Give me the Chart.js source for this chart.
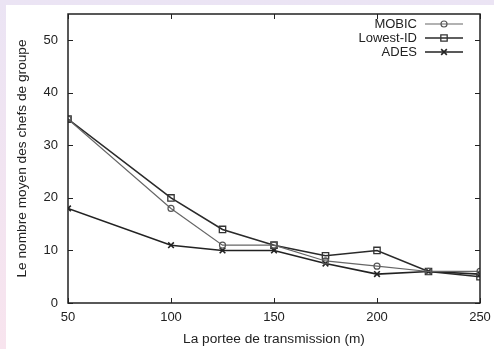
<!DOCTYPE html>
<html>
<head>
<meta charset="utf-8">
<script src="https://cdn.jsdelivr.net/npm/chart.js@4/dist/chart.umd.min.js"></script>
<style>
  html, body { margin: 0; padding: 0; }
  body { width: 494px; height: 349px; overflow: hidden; position: relative;
         background: linear-gradient(to bottom, #ebe4f4, #f8e4ee); }
  #wrap { position: absolute; left: 6px; top: 5px; width: 488px; height: 344px; background: #ffffff; }
  canvas { display: block; }
</style>
</head>
<body>
<div id="wrap"><canvas id="c" width="488" height="344"></canvas></div>
<script>
const ranges = [50, 100, 125, 150, 175, 200, 225, 250];
const mobic = [35, 18, 11, 11, 8, 7, 6, 6];
const lowestId = [35, 20, 14, 11, 9, 10, 6, 5];
const ades = [18, 11, 10, 10, 7.5, 5.5, 6, 5.5];
const seriesNames = ['MOBIC', 'Lowest-ID', 'ADES'];
const xTicks = [50, 100, 150, 200, 250];
const yTicks = [0, 10, 20, 30, 40, 50];
const xTitle = 'La portee de transmission (m)';
const yTitle = 'Le nombre moyen des chefs de groupe';

const FONT = 'Liberation Sans, Arial, sans-serif';
const pts = arr => arr.map((v, i) => ({ x: ranges[i], y: v }));
const noPad = s => { s.paddingTop = 0; s.paddingBottom = 0; s.paddingLeft = 0; s.paddingRight = 0; };

const frameAndTicks = {
  id: 'frameAndTicks',
  afterDatasetsDraw(chart) {
    const { ctx, chartArea: a, scales: { x, y } } = chart;
    ctx.save();
    ctx.strokeStyle = '#222';
    ctx.lineWidth = 1;
    const L = 5;
    ctx.beginPath();
    yTicks.forEach(v => {
      const py = Math.round(y.getPixelForValue(v)) + 0.5;
      ctx.moveTo(a.left, py); ctx.lineTo(a.left + L, py);
      ctx.moveTo(a.right, py); ctx.lineTo(a.right - L, py);
    });
    xTicks.forEach(v => {
      const px = Math.round(x.getPixelForValue(v)) + 0.5;
      ctx.moveTo(px, a.bottom); ctx.lineTo(px, a.bottom - L);
      ctx.moveTo(px, a.top); ctx.lineTo(px, a.top + L);
    });
    ctx.stroke();
    ctx.lineWidth = 1.5;
    ctx.strokeRect(a.left, a.top, a.right - a.left, a.bottom - a.top);
    // legend
    const rows = [19, 33, 47];
    ctx.font = '13px ' + FONT;
    ctx.textAlign = 'right';
    ctx.textBaseline = 'middle';
    chart.data.datasets.forEach((ds, i) => {
      const yy = rows[i];
      ctx.fillStyle = '#222';
      ctx.fillText(ds.label, 411, yy);
      ctx.strokeStyle = ds.borderColor;
      ctx.lineWidth = ds.borderWidth;
      ctx.beginPath(); ctx.moveTo(419, yy); ctx.lineTo(457, yy); ctx.stroke();
      ctx.fillStyle = 'rgba(0,0,0,0)';
      ctx.strokeStyle = ds.pointBorderColor;
      ctx.lineWidth = ds.pointBorderWidth;
      Chart.helpers.drawPoint(ctx, {
        pointStyle: ds.pointStyle, radius: ds.pointRadius, rotation: 0,
        borderWidth: ds.pointBorderWidth
      }, 438, yy);
    });
    ctx.restore();
  }
};

new Chart(document.getElementById('c'), {
  type: 'line',
  data: {
    datasets: [
      { label: seriesNames[0], data: pts(mobic), borderColor: '#666', borderWidth: 1.2,
        pointStyle: 'circle', pointRadius: 3, pointBorderWidth: 1.2,
        pointBorderColor: '#555', pointBackgroundColor: 'rgba(0,0,0,0)' },
      { label: seriesNames[1], data: pts(lowestId), borderColor: '#2a2a2a', borderWidth: 1.6,
        pointStyle: 'rect', pointRadius: 4.5, pointBorderWidth: 1.3,
        pointBorderColor: '#333', pointBackgroundColor: 'rgba(0,0,0,0)' },
      { label: seriesNames[2], data: pts(ades), borderColor: '#222', borderWidth: 1.6,
        pointStyle: 'crossRot', pointRadius: 4, pointBorderWidth: 1.6,
        pointBorderColor: '#222', pointBackgroundColor: 'rgba(0,0,0,0)' }
    ]
  },
  options: {
    responsive: false,
    animation: false,
    events: [],
    layout: { padding: { left: 0, right: 14, top: 9, bottom: 0 } },
    plugins: { legend: { display: false }, tooltip: { enabled: false } },
    scales: {
      x: {
        type: 'linear', min: 50, max: 250,
        afterBuildTicks: s => { s.ticks = xTicks.map(v => ({ value: v })); },
        afterFit: s => { s.height = 46; noPad(s); },
        grid: { display: false, drawTicks: false },
        border: { display: false },
        ticks: { padding: 7, color: '#222', font: { family: FONT, size: 13 }, maxRotation: 0 },
        title: { display: true, text: xTitle, color: '#222', font: { family: FONT, size: 13.7 },
                 padding: { top: 0, bottom: 2 } }
      },
      y: {
        type: 'linear', min: 0, max: 55,
        afterBuildTicks: s => { s.ticks = yTicks.map(v => ({ value: v })); },
        afterFit: s => { s.width = 62; noPad(s); },
        grid: { display: false, drawTicks: false },
        border: { display: false },
        ticks: { padding: 10, color: '#222', font: { family: FONT, size: 13 } },
        title: { display: true, text: yTitle, color: '#222', font: { family: FONT, size: 13.7 },
                 padding: { top: 8, bottom: 0 } }
      }
    }
  },
  plugins: [frameAndTicks]
});
</script>
</body>
</html>
